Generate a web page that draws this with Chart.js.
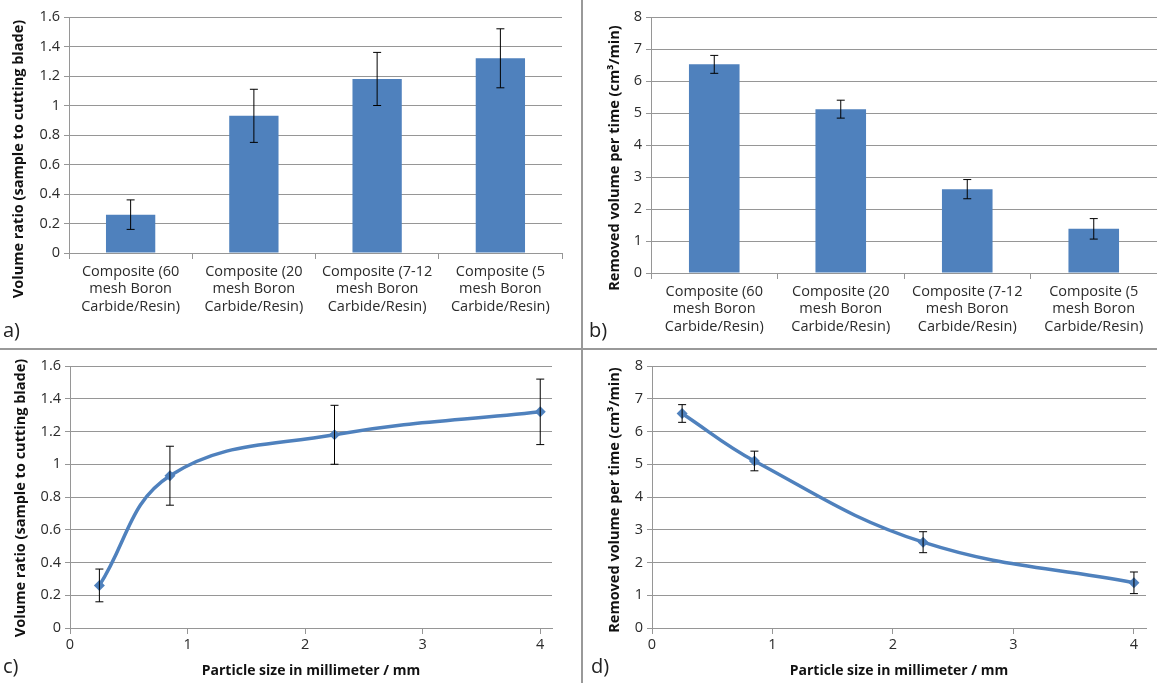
<!DOCTYPE html>
<html>
<head>
<meta charset="utf-8">
<script src="https://cdn.jsdelivr.net/npm/chart.js@4.4.1/dist/chart.umd.min.js"></script>
<style>
  body { margin:0; background:#fff; width:1157px; height:683px; position:relative; overflow:hidden; font-family:"Open Sans", sans-serif; }
  .box { position:absolute; }
  .lbl { position:absolute; font-size:20px; color:#222; }
  .ytitle { position:absolute; width:400px; height:20px; line-height:20px; margin-left:-200px; margin-top:-10px;
            text-align:center; font-size:14.5px; font-weight:bold; color:#111; transform:rotate(-90deg); white-space:nowrap; }
  .vline { position:absolute; left:581px; top:0; width:2px; height:683px; background:#999; }
  .hline { position:absolute; left:0; top:348px; width:1157px; height:2px; background:#999; }
</style>
</head>
<body>
<div class="box" style="left:0;top:0;width:582px;height:348px"><canvas id="chA"></canvas></div>
<div class="box" style="left:584px;top:0;width:573px;height:348px"><canvas id="chB"></canvas></div>
<div class="box" style="left:0;top:350px;width:582px;height:333px"><canvas id="chC"></canvas></div>
<div class="box" style="left:584px;top:350px;width:573px;height:333px"><canvas id="chD"></canvas></div>
<div class="vline"></div>
<div class="hline"></div>
<div class="ytitle" style="left:18px;top:159px">Volume ratio (sample to cutting blade)</div>
<div class="ytitle" style="left:614px;top:158px">Removed volume per time (cm³/min)</div>
<div class="ytitle" style="left:20px;top:498px">Volume ratio (sample to cutting blade)</div>
<div class="ytitle" style="left:614px;top:500px">Removed volume per time (cm³/min)</div>
<div class="lbl" style="left:3px;top:316px">a)</div>
<div class="lbl" style="left:589px;top:316px">b)</div>
<div class="lbl" style="left:3px;top:652px">c)</div>
<div class="lbl" style="left:591px;top:652px">d)</div>
<script>
// categories (bar charts)
const categories = [
    ["Composite (60", "mesh Boron", "Carbide/Resin)"],
    ["Composite (20", "mesh Boron", "Carbide/Resin)"],
    ["Composite (7-12", "mesh Boron", "Carbide/Resin)"],
    ["Composite (5", "mesh Boron", "Carbide/Resin)"]
];
// particle size in mm (line charts)
const particleSize = [0.25, 0.85, 2.25, 4];

// volume ratio (a, c)
const volumeRatio = [0.26, 0.93, 1.18, 1.32];
const volumeRatioErr = [0.10, 0.18, 0.18, 0.20];

// removed volume per time (b, d)
const removedVolume = [6.52, 5.12, 2.62, 1.38];
const removedVolumeErr = [0.28, 0.28, 0.30, 0.32];
const removedVolumeLine = [6.55, 5.1, 2.62, 1.38];
const removedVolumeLineErr = [0.27, 0.3, 0.32, 0.33];

const ratioTicks = [0, 0.2, 0.4, 0.6, 0.8, 1, 1.2, 1.4, 1.6];
const removedTicks = [0, 1, 2, 3, 4, 5, 6, 7, 8];
const sizeTicks = [0, 1, 2, 3, 4];

const blue = '#4F81BD';
const gridCol = '#969696';
const textCol = '#2b2b2b';
Chart.defaults.font.family = '"Open Sans", sans-serif';
Chart.defaults.color = textCol;

// error bars drawn from dataset.errors
const errorBars = {
    id: 'errorBars',
    afterDatasetsDraw(chart) {
        const ctx = chart.ctx;
        const ys = chart.scales.y;
        chart.data.datasets.forEach((ds, di) => {
            const meta = chart.getDatasetMeta(di);
            meta.data.forEach((el, i) => {
                const v = ds.data[i].y !== undefined ? ds.data[i].y : ds.data[i];
                const e = ds.errors[i];
                const top = ys.getPixelForValue(v + e);
                const bot = ys.getPixelForValue(v - e);
                ctx.save();
                ctx.strokeStyle = '#000';
                ctx.lineWidth = 1;
                ctx.beginPath();
                ctx.moveTo(el.x, top); ctx.lineTo(el.x, bot);
                ctx.moveTo(el.x - 4, top); ctx.lineTo(el.x + 4, top);
                ctx.moveTo(el.x - 4, bot); ctx.lineTo(el.x + 4, bot);
                ctx.stroke();
                ctx.restore();
            });
        });
    }
};

function yAxis(tickVals, max, w) {
    return {
        min: 0, max: max,
        afterBuildTicks: (s) => { s.ticks = tickVals.map(v => ({value: v})); },
        afterFit: (s) => { s.width = w; },
        border: { color: gridCol },
        grid: { color: gridCol, tickLength: 5 },
        ticks: { font: { size: 14.5 }, padding: 4, color: textCol, callback: (v) => String(v) }
    };
}

function barChart(id, vals, errs, tickVals, max, yW, xH, pad) {
    new Chart(document.getElementById(id), {
        type: 'bar',
        data: {
            labels: categories,
            datasets: [{ data: vals, errors: errs, backgroundColor: blue, categoryPercentage: 1, barPercentage: 0.4 }]
        },
        options: {
            responsive: true, maintainAspectRatio: false, animation: false,
            layout: { padding: pad },
            plugins: { legend: { display: false }, tooltip: { enabled: false } },
            scales: {
                x: {
                    afterFit: (s) => { s.height = xH; },
                    border: { color: gridCol },
                    grid: { drawOnChartArea: false, offset: true, tickLength: 6, color: gridCol },
                    ticks: { font: { size: 14.5 }, padding: 4, color: textCol, maxRotation: 0 }
                },
                y: yAxis(tickVals, max, yW)
            }
        },
        plugins: [errorBars]
    });
}

function lineChart(id, vals, errs, tickVals, max, yW, pad) {
    new Chart(document.getElementById(id), {
        type: 'line',
        data: {
            datasets: [{
                data: particleSize.map((x, i) => ({x: x, y: vals[i]})),
                errors: errs,
                borderColor: blue, backgroundColor: blue, borderWidth: 3.5,
                tension: 0.4, pointStyle: 'rectRot', pointRadius: 5.5, pointBorderWidth: 0
            }]
        },
        options: {
            responsive: true, maintainAspectRatio: false, animation: false,
            layout: { padding: pad },
            plugins: { legend: { display: false }, tooltip: { enabled: false } },
            scales: {
                x: {
                    type: 'linear', min: 0, max: 4.1,
                    afterBuildTicks: (s) => { s.ticks = sizeTicks.map(v => ({value: v})); },
                    afterFit: (s) => { s.height = 55; },
                    border: { color: gridCol },
                    grid: { drawOnChartArea: false, tickLength: 6, color: gridCol },
                    ticks: { font: { size: 14.5 }, padding: 2, color: textCol },
                    title: { display: true, text: 'Particle size in millimeter / mm', font: { size: 14, weight: 'bold' }, color: '#111', padding: { top: 5 } }
                },
                y: yAxis(tickVals, max, yW)
            }
        },
        plugins: [errorBars]
    });
}

barChart('chA', volumeRatio, volumeRatioErr, ratioTicks, 1.6, 69, 95, {top: 17, right: 20, left: 0, bottom: 0});
barChart('chB', removedVolume, removedVolumeErr, removedTicks, 8, 67, 75, {top: 17, right: 0, left: 0, bottom: 0});
lineChart('chC', volumeRatio, volumeRatioErr, ratioTicks, 1.6, 70, {top: 16, right: 30, left: 0, bottom: 0});
lineChart('chD', removedVolumeLine, removedVolumeLineErr, removedTicks, 8, 68, {top: 16, right: 11, left: 0, bottom: 0});
</script>
</body>
</html>
